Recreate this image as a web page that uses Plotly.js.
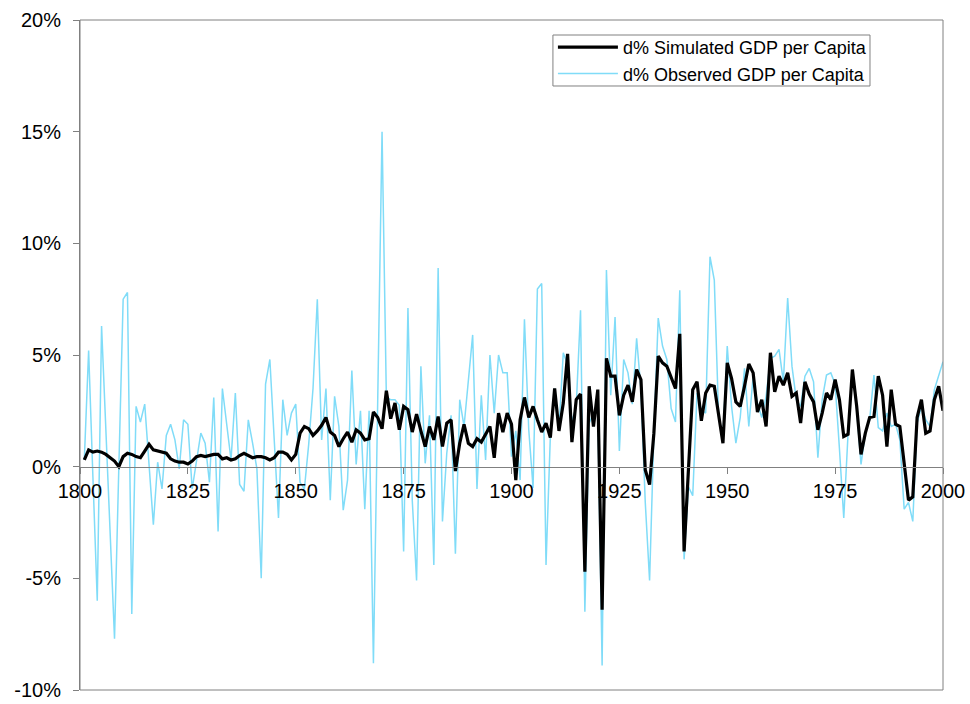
<!DOCTYPE html>
<html>
<head>
<meta charset="utf-8">
<script src="https://cdn.plot.ly/plotly-3.0.1.min.js"></script>
<style>
  html, body { margin: 0; padding: 0; background: #ffffff; }
  #chart { width: 970px; height: 704px; }
</style>
</head>
<body>
<div id="chart"></div>
<script>
// First year of both series (one value per year)
const startYear = 1801;

// d% Simulated GDP per Capita, 1801-2000
const simulated = [
  0.3, 0.75, 0.65, 0.7, 0.65, 0.55, 0.4, 0.25, 0.0, 0.45,
  0.6, 0.55, 0.45, 0.4, 0.7, 1.0, 0.75, 0.7, 0.65, 0.6,
  0.35, 0.25, 0.2, 0.2, 0.12, 0.25, 0.45, 0.5, 0.45, 0.5,
  0.55, 0.55, 0.35, 0.4, 0.3, 0.35, 0.5, 0.6, 0.5, 0.4,
  0.45, 0.45, 0.4, 0.3, 0.4, 0.65, 0.65, 0.55, 0.3, 0.55,
  1.5, 1.8, 1.7, 1.4, 1.6, 1.85, 2.2, 1.55, 1.4, 0.9,
  1.25, 1.55, 1.1, 1.65, 1.5, 1.2, 1.25, 2.45, 2.2, 1.7,
  3.4, 2.15, 2.85, 1.65, 2.7, 2.55, 1.55, 2.35, 1.6, 0.9,
  1.8, 1.2, 2.25, 0.9, 1.95, 2.1, -0.2, 1.05, 1.9, 1.05,
  0.9, 1.25, 1.1, 1.45, 1.8, 0.4, 2.4, 1.55, 2.4, 1.9,
  -0.6, 2.1, 3.1, 2.2, 2.7, 2.1, 1.55, 1.95, 1.3, 3.5,
  1.6, 2.85, 5.05, 1.1, 3.0, 3.25, -4.7, 3.6, 1.8, 3.45,
  -6.4, 4.85, 4.05, 4.05, 2.3, 3.2, 3.65, 2.9, 4.35, 3.9,
  -0.15, -0.8, 1.5, 4.95, 4.65, 4.5, 3.95, 3.5, 5.95, -3.8,
  -0.15, 3.45, 3.8, 2.05, 3.3, 3.65, 3.6, 2.25, 1.05, 4.65,
  3.95, 2.9, 2.7, 3.6, 4.6, 4.2, 2.45, 3.0, 1.8, 5.1,
  3.35, 4.05, 3.65, 4.2, 3.15, 3.3, 1.95, 3.8, 3.25, 2.9,
  1.65, 2.4, 3.3, 3.0, 3.9, 3.0, 1.35, 1.45, 4.35, 2.7,
  0.55, 1.5, 2.2, 2.25, 4.05, 3.2, 0.9, 3.45, 1.9, 1.8,
  0.1, -1.5, -1.35, 2.2, 3.0, 1.5, 1.6, 3.0, 3.6, 2.5
];

// d% Observed GDP per Capita, 1801-2000
const observed = [
  0.3, 5.2, -0.5, -6.0, 6.3, 1.6, -3.2, -7.7, 0.0, 7.5,
  7.8, -6.6, 2.7, 2.0, 2.8, 0.1, -2.6, 0.2, -1.0, 1.4,
  1.9, 1.2, -0.1, 2.1, 1.9, -1.0, 0.3, 1.5, 1.05, -0.7,
  3.1, -2.9, 3.5, 1.8, 0.3, 3.3, -0.8, -1.1, 2.1, 1.05,
  -0.1, -5.0, 3.7, 4.8, 1.2, -2.3, 3.0, 1.4, 2.4, 2.8,
  -0.7, -1.0, 1.0, 3.5, 7.5, 1.2, 3.5, -1.5, 3.15, 1.8,
  -1.95, -0.6, 4.3, 0.1, 2.5, -1.9, 2.5, -8.8, 3.0, 15.0,
  3.1, 3.0, 3.0, 2.75, -3.8, 7.1, -1.5, -5.1, 4.5, 0.15,
  2.3, -4.4, 8.9, -2.45, 0.6, 2.3, -3.9, 3.0, 1.8, 3.9,
  5.9, -1.0, 3.2, 0.3, 5.0, 2.4, 5.0, 4.2, 4.2, 0.45,
  1.6, -0.6, 6.6, 1.65, -0.95, 7.95, 8.2, -4.4, 1.35, 3.5,
  1.65, 5.1, 4.55, 2.0, 2.7, 7.0, -6.5, 1.95, 2.4, 2.4,
  -8.9, 8.8, 3.2, 6.7, 0.7, 4.8, 4.2, 2.8, 5.75, 3.45,
  -1.6, -5.1, 1.5, 6.65, 5.4, 4.8, 2.6, 2.0, 7.9, -4.15,
  -0.9, -1.3, 3.3, 2.55, 2.4, 9.4, 8.35, 2.25, 1.3, 5.4,
  2.7, 1.05, 2.2, 4.4, 1.8, 4.05, 2.85, 2.2, 3.15, 4.85,
  4.95, 5.25, 3.8, 7.55, 4.5, 3.0, 2.7, 4.05, 4.4, 3.8,
  0.4, 3.0, 4.1, 4.2, 3.7, 0.8, -2.3, 1.5, 4.3, 2.55,
  0.1, 1.5, 2.1, 4.1, 1.75, 1.6, 2.4, 1.8, 1.9, 1.2,
  -1.9, -1.6, -2.45, 1.95, 2.7, 2.1, 1.8, 3.45, 4.05, 4.7
];

const years = simulated.map((_, i) => startYear + i);

// Tick labels
const xTickVals = [1800, 1825, 1850, 1875, 1900, 1925, 1950, 1975, 2000];
const yTickVals = [-10, -5, 0, 5, 10, 15, 20];

const seriesNames = ['d% Simulated GDP per Capita', 'd% Observed GDP per Capita'];

const simTrace = {
  x: years, y: simulated, type: 'scatter', mode: 'lines',
  name: seriesNames[0], legendrank: 1,
  line: { color: '#000000', width: 3.2 }
};
const obsTrace = {
  x: years, y: observed, type: 'scatter', mode: 'lines',
  name: seriesNames[1], legendrank: 2,
  line: { color: '#80DCF8', width: 1.5 }
};

const layout = {
  width: 970, height: 704,
  margin: { l: 80, r: 27, t: 20, b: 14 },
  paper_bgcolor: '#ffffff', plot_bgcolor: '#ffffff',
  font: { family: 'Liberation Sans, Arial, sans-serif', color: '#000000', size: 20 },
  showlegend: true,
  legend: {
    x: 0.548, y: 0.9866, xanchor: 'left', yanchor: 'top',
    bgcolor: 'rgba(255,255,255,0)', borderwidth: 0,
    font: { size: 18, color: '#000000' },
    itemwidth: 60,
    tracegroupgap: 0
  },
  xaxis: {
    range: [1800, 2000],
    tickmode: 'array', tickvals: xTickVals, ticktext: xTickVals.map(String),
    anchor: 'free', position: 1 / 3,
    showline: true, linecolor: '#808080', linewidth: 1,
    ticks: 'outside', ticklen: 6, tickcolor: '#808080', tickwidth: 1,
    showgrid: false, zeroline: false,
    tickfont: { size: 20 }
  },
  yaxis: {
    range: [-10, 20],
    tickmode: 'array', tickvals: yTickVals, ticktext: yTickVals.map(v => v + '%'),
    showline: true, linecolor: '#808080', linewidth: 1,
    ticks: 'outside', ticklen: 6, tickcolor: '#808080', tickwidth: 1,
    showgrid: false, zeroline: false,
    tickfont: { size: 20 }, ticklabelstandoff: 8
  },
  shapes: [
    { type: 'rect', xref: 'paper', yref: 'paper', x0: 0, x1: 1, y0: 0, y1: 1,
      line: { color: '#808080', width: 1 }, fillcolor: 'rgba(0,0,0,0)', layer: 'above' },
    // legend frame
    { type: 'rect', xref: 'paper', yref: 'paper', x0: 0.548, x1: 0.9154, y0: 0.9015, y1: 0.9776,
      line: { color: '#808080', width: 1 }, fillcolor: '#ffffff', layer: 'above' }
  ]
};

Plotly.newPlot('chart', [obsTrace, simTrace], layout, { displayModeBar: false, staticPlot: true });
</script>
</body>
</html>
